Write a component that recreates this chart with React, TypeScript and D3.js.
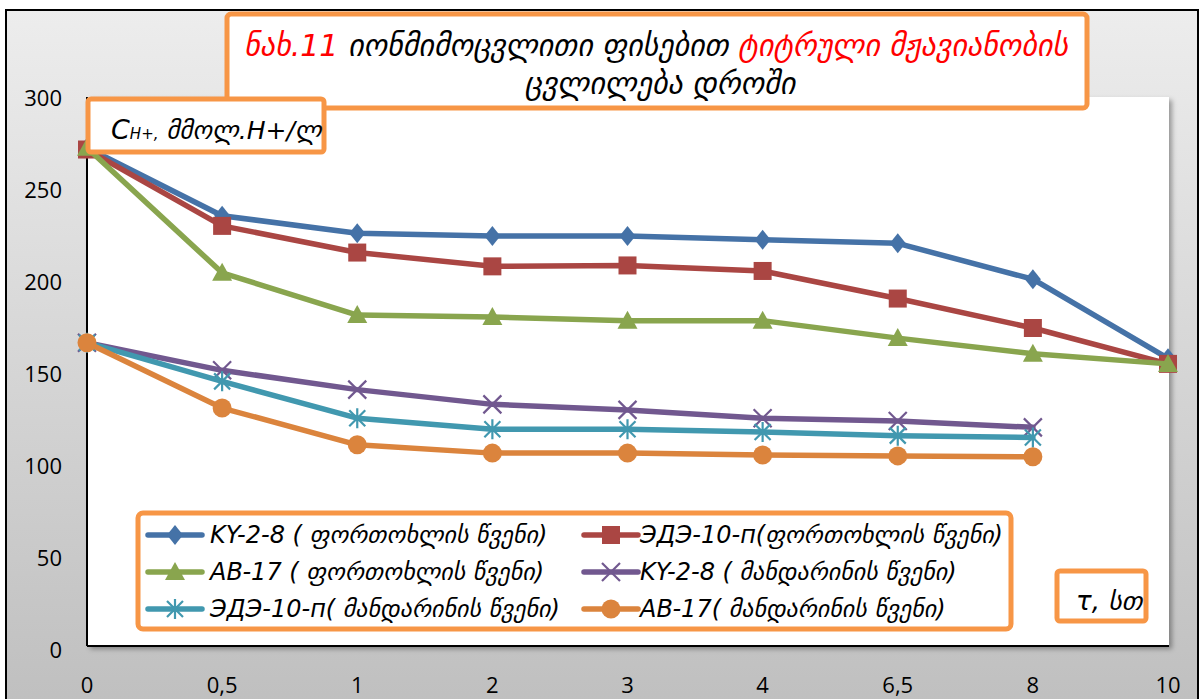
import React from "react";
import * as d3 from "d3";

const categories = ["0", "0,5", "1", "2", "3", "4", "6,5", "8", "10"];
const yTicks = [0, 50, 100, 150, 200, 250, 300];

const kyOrange = [273, 236, 226.5, 225, 225, 223, 221, 201.5, 158.5];
const edeOrange = [272, 230.5, 216, 208.5, 209, 206, 191, 175, 155.5];
const abOrange = [273, 205, 182, 181, 179, 179, 169.5, 161, 155.5];
const kyMandarin = [167, 152, 141.5, 133.5, 130.5, 126, 124.5, 121];
const edeMandarin = [167, 146, 126, 120, 120, 118.5, 116.5, 115.5];
const abMandarin = [167, 131.5, 111.5, 107, 107, 106, 105.5, 105];

const seriesNames = [
  "KY-2-8 ( ფორთოხლის  წვენი)",
  "ЭДЭ-10-п(ფორთოხლის  წვენი)",
  "AB-17 ( ფორთოხლის  წვენი)",
  "KY-2-8 ( მანდარინის წვენი)",
  "ЭДЭ-10-п( მანდარინის წვენი)",
  "AB-17( მანდარინის წვენი)",
];
const seriesValues = [kyOrange, edeOrange, abOrange, kyMandarin, edeMandarin, abMandarin];
const seriesColors = ["#4572A7", "#AA4643", "#89A54E", "#71588F", "#4198AF", "#DB843D"];
const seriesMarkers = ["diamond", "square", "triangle", "x", "star", "circle"];

const W = 1201;
const H = 699;
const plot = { left: 87, right: 1169, top: 97, bottom: 646 };
const ORANGE = "#F79646";
const FONT = "'Open Sans', 'DejaVu Sans', sans-serif";
const GFONT = "'DejaVu Sans', sans-serif";

function Marker({ type, color, x, y }: { type: string; color: string; x: number; y: number }) {
  const t = `translate(${x},${y})`;
  if (type === "diamond") return <path transform={t} d="M0,-10 L8,0 L0,10 L-8,0 Z" fill={color} />;
  if (type === "square") return <rect transform={t} x={-9} y={-9} width={18} height={18} fill={color} />;
  if (type === "triangle") return <path transform={t} d="M0,-10 L10,8 L-10,8 Z" fill={color} />;
  if (type === "circle") return <circle transform={t} r={9.5} fill={color} />;
  if (type === "x")
    return (
      <path transform={t} d="M-9,-9 L9,9 M-9,9 L9,-9" stroke={color} strokeWidth={2.2} fill="none" />
    );
  return (
    <path transform={t} d="M-8,-8 L8,8 M-8,8 L8,-8 M0,-10 L0,10" stroke={color} strokeWidth={2.2} fill="none" />
  );
}

export default function App() {
  const x = d3.scalePoint<string>().domain(categories).range([87, 1168]);
  const y = d3.scaleLinear().domain([0, 300]).range([650, 98]);
  const line = d3
    .line<number>()
    .x((_, i) => x(categories[i]) as number)
    .y((d) => y(d));

  const legendRows = [535, 572, 609];
  const legendCols = [{ lx: 148, tx: 210 }, { lx: 584, tx: 640 }];

  return (
    <svg width={W} height={H} style={{ position: "absolute", left: 0, top: 0 }}>
      <defs>
        <linearGradient id="bg" x1="0" y1="0" x2="0" y2="1">
          <stop offset="0" stopColor="#ededed" />
          <stop offset="1" stopColor="#bfbfbf" />
        </linearGradient>
        <filter id="shadow" x="-5%" y="-5%" width="115%" height="115%">
          <feDropShadow dx="3" dy="3" stdDeviation="2.5" floodColor="#000" floodOpacity="0.35" />
        </filter>
      </defs>
      <rect x={6} y={10} width={1192} height={700} fill="url(#bg)" stroke="#000" strokeWidth={2} />
      <rect
        x={plot.left}
        y={plot.top}
        width={plot.right - plot.left}
        height={plot.bottom - plot.top}
        fill="#fff"
        filter="url(#shadow)"
      />
      <line x1={plot.left} x2={plot.right} y1={plot.bottom} y2={plot.bottom} stroke="#000" strokeWidth={2} />
      <line x1={plot.left} x2={plot.left} y1={plot.top} y2={plot.bottom} stroke="#000" strokeWidth={2} />

      {yTicks.map((t) => (
        <text key={t} x={62} y={y(t)} dy="0.35em" textAnchor="end" fontFamily={FONT} fontSize={22} fill="#000">
          {t}
        </text>
      ))}
      {categories.map((c) => (
        <text key={c} x={x(c)} y={685} dy="0.35em" textAnchor="middle" fontFamily={FONT} fontSize={22} fill="#000">
          {c}
        </text>
      ))}

      {seriesValues.map((vals, si) => (
        <g key={si}>
          <path
            d={line(vals) as string}
            fill="none"
            stroke={seriesColors[si]}
            strokeWidth={5.5}
            strokeLinejoin="round"
            strokeLinecap="round"
          />
          {vals.map((v, i) => (
            <Marker key={i} type={seriesMarkers[si]} color={seriesColors[si]} x={x(categories[i]) as number} y={y(v)} />
          ))}
        </g>
      ))}

      {/* Title box */}
      <rect x={227} y={14} width={860} height={94} rx={4} fill="#fff" stroke={ORANGE} strokeWidth={5} />
      <text x={656} y={56} textAnchor="middle" fontFamily={GFONT} fontStyle="italic" fontSize={30}>
        <tspan fill="#FF0000">ნახ.11</tspan>
        <tspan fill="#000"> იონმიმოცვლითი ფისებით </tspan>
        <tspan fill="#FF0000">ტიტრული მჟავიანობის</tspan>
      </text>
      <text x={660} y={94} textAnchor="middle" fontFamily={GFONT} fontStyle="italic" fontSize={30} fill="#000">
        ცვლილება დროში
      </text>

      {/* Y axis title box */}
      <rect x={88} y={99} width={236} height={53} rx={3} fill="#fff" stroke={ORANGE} strokeWidth={5} />
      <text x={111} y={139} fontFamily={GFONT} fontStyle="italic" fill="#000">
        <tspan fontSize={27}>C</tspan>
        <tspan fontSize={15}>H+,</tspan>
        <tspan fontSize={25}> მმოლ.H+/ლ</tspan>
      </text>

      {/* X axis title box */}
      <rect x={1057} y={571} width={89} height={50} rx={3} fill="#fff" stroke={ORANGE} strokeWidth={5} />
      <text x={1076} y={610} fontFamily={GFONT} fontStyle="italic" fontSize={26} fill="#000">
        τ, სთ
      </text>

      {/* Legend */}
      <rect x={138} y={513} width={873} height={116} rx={5} fill="#fff" stroke={ORANGE} strokeWidth={5} />
      {seriesNames.map((name, si) => {
        const row = legendRows[Math.floor(si / 2)];
        const col = legendCols[si % 2];
        return (
          <g key={si}>
            <line
              x1={col.lx}
              x2={col.lx + 54}
              y1={row}
              y2={row}
              stroke={seriesColors[si]}
              strokeWidth={5.5}
              strokeLinecap="round"
            />
            <Marker type={seriesMarkers[si]} color={seriesColors[si]} x={col.lx + 27} y={row} />
            <text x={col.tx} y={row} dy="0.35em" fontFamily={GFONT} fontStyle="italic" fontSize={24} fill="#000">
              {name}
            </text>
          </g>
        );
      })}
    </svg>
  );
}
